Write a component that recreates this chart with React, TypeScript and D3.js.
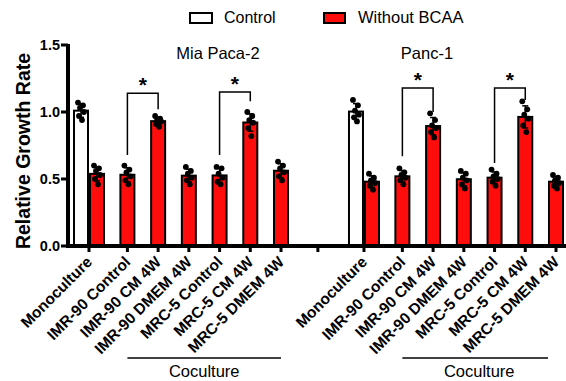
import React from "react";
import * as d3 from "d3";

const width = 566;
const height = 381;

const categories = [
  "Monoculture",
  "IMR-90 Control",
  "IMR-90 CM 4W",
  "IMR-90 DMEM 4W",
  "MRC-5 Control",
  "MRC-5 CM 4W",
  "MRC-5 DMEM 4W",
];
const cellLines = ["Mia Paca-2", "Panc-1"];
const seriesNames = ["Control", "Without BCAA"];
const yTicks = [0, 0.5, 1.0, 1.5];

// replicate values
const miaControl = [1.07, 1.05, 1.03, 1.0, 0.97, 0.94];
const miaWithoutBCAA = [
  [0.6, 0.58, 0.56, 0.53, 0.5, 0.46],
  [0.6, 0.57, 0.55, 0.52, 0.49, 0.46],
  [0.97, 0.95, 0.94, 0.93, 0.91, 0.89],
  [0.59, 0.56, 0.54, 0.51, 0.49, 0.46],
  [0.59, 0.58, 0.54, 0.51, 0.48, 0.46],
  [1.0, 0.97, 0.94, 0.92, 0.88, 0.82],
  [0.63, 0.6, 0.58, 0.55, 0.52, 0.49],
];
const pancControl = [1.09, 1.05, 1.01, 0.98, 0.96, 0.93];
const pancWithoutBCAA = [
  [0.54, 0.51, 0.49, 0.47, 0.45, 0.42],
  [0.58, 0.55, 0.53, 0.51, 0.49, 0.46],
  [0.99, 0.94, 0.9, 0.88, 0.85, 0.81],
  [0.56, 0.54, 0.51, 0.49, 0.46, 0.43],
  [0.57, 0.54, 0.52, 0.5, 0.48, 0.45],
  [1.08, 1.02, 0.98, 0.95, 0.9, 0.85],
  [0.53, 0.51, 0.49, 0.47, 0.45, 0.43],
];

// significance brackets (value units)
const brackets = [
  { panel: 0, from: 1, to: 2, top: 1.14, leftEnd: 0.68, rightEnd: 1.02 },
  { panel: 0, from: 4, to: 5, top: 1.15, leftEnd: 0.68, rightEnd: 1.08 },
  { panel: 1, from: 1, to: 2, top: 1.18, leftEnd: 0.67, rightEnd: 1.0 },
  { panel: 1, from: 4, to: 5, top: 1.18, leftEnd: 0.62, rightEnd: 1.09 },
];

const controls = [miaControl, pancControl];
const treated = [miaWithoutBCAA, pancWithoutBCAA];

const font = "'Liberation Sans', Arial, sans-serif";
const red = "#ff0d0d";

const y = d3.scaleLinear().domain([0, 1.5]).range([246, 45]);
// slot positions along the x axis
const slot = d3.scaleLinear().domain([0, 15.2]).range([89, 556]);
const panelStart = [0, 8.95];
const slotOf = (p: number, i: number) =>
  panelStart[p] + (i === 0 ? 0 : 1.25 + (i - 1));
const xPos = (p: number, i: number) => slot(slotOf(p, i));
const gapX = slot(7.45);

const barW = 14;
const jitter = [-3, 2, -1, 3, -2, 1];

function Bar({ cx, values, fill }: { cx: number; values: number[]; fill: string }) {
  const m = d3.mean(values) as number;
  const sd = d3.deviation(values) as number;
  const mid = cx + barW / 2;
  return (
    <g>
      <rect x={cx} y={y(m)} width={barW} height={y(0) - y(m)} fill={fill} stroke="#000" strokeWidth={2} />
      <line x1={mid} x2={mid} y1={y(m - sd)} y2={y(m + sd)} stroke="#000" strokeWidth={1.5} />
      <line x1={mid - 3} x2={mid + 3} y1={y(m + sd)} y2={y(m + sd)} stroke="#000" strokeWidth={1.5} />
      <line x1={mid - 3} x2={mid + 3} y1={y(m - sd)} y2={y(m - sd)} stroke="#000" strokeWidth={1.5} />
      {values.map((v, k) => (
        <circle key={k} cx={mid + jitter[k]} cy={y(v)} r={2.9} fill="#000" />
      ))}
    </g>
  );
}

export default function App() {
  return (
    <svg width={width} height={height} style={{ position: "absolute", left: 0, top: 0, background: "#fff" }} fontFamily={font}>
      {/* legend */}
      <rect x={190} y={13} width={22} height={10} fill="#fff" stroke="#000" strokeWidth={2} />
      <text x={224} y={23} fontSize={16}>{seriesNames[0]}</text>
      <rect x={324} y={13} width={21} height={10} fill={red} stroke="#000" strokeWidth={2} />
      <text x={358} y={23} fontSize={16.5}>{seriesNames[1]}</text>

      {/* panel titles */}
      {cellLines.map((name, p) => (
        <text key={name} x={p === 0 ? 218 : 427} y={59} fontSize={16.5} textAnchor="middle">{name}</text>
      ))}

      {/* bars */}
      {cellLines.map((name, p) => (
        <g key={name}>
          <Bar cx={xPos(p, 0) - barW - 1} values={controls[p]} fill="#fff" />
          {categories.map((c, i) => (
            <Bar key={c} cx={i === 0 ? xPos(p, 0) + 1 : xPos(p, i) - barW / 2} values={treated[p][i]} fill={red} />
          ))}
        </g>
      ))}

      {/* brackets */}
      {brackets.map((b, k) => {
        const x1 = xPos(b.panel, b.from);
        const x2 = xPos(b.panel, b.to);
        return (
          <g key={k}>
            <path
              d={`M${x1},${y(b.leftEnd)}V${y(b.top)}H${x2}V${y(b.rightEnd)}`}
              fill="none"
              stroke="#000"
              strokeWidth={1.5}
            />
            <text x={(x1 + x2) / 2} y={y(b.top) - 1} fontSize={21} fontWeight="bold" textAnchor="middle">*</text>
          </g>
        );
      })}

      {/* y axis */}
      <line x1={68} x2={68} y1={y(1.5) - 1} y2={y(0) + 2} stroke="#000" strokeWidth={4} />
      {yTicks.map((t) => (
        <g key={t}>
          <line x1={61} x2={68} y1={y(t)} y2={y(t)} stroke="#000" strokeWidth={3} />
          <text x={60} y={y(t) + 5} fontSize={14.5} fontWeight="bold" textAnchor="end">{d3.format(".1f")(t)}</text>
        </g>
      ))}
      <text
        transform={`translate(30,${151}) rotate(-90)`}
        fontSize={19.5}
        fontWeight="bold"
        textAnchor="middle"
      >
        Relative Growth Rate
      </text>

      {/* x axis */}
      <line x1={66} x2={width} y1={y(0)} y2={y(0)} stroke="#000" strokeWidth={4} />
      <line x1={gapX} x2={gapX} y1={y(0)} y2={y(0) + 6} stroke="#000" strokeWidth={3} />
      {cellLines.map((name, p) => (
        <g key={name}>
          {categories.map((c, i) => {
            const x = xPos(p, i);
            return (
              <g key={c}>
                <line x1={x} x2={x} y1={y(0)} y2={y(0) + 6} stroke="#000" strokeWidth={3} />
                <text
                  transform={`translate(${x + 4},${263}) rotate(-45)`}
                  fontSize={15.5}
                  fontWeight="bold"
                  textAnchor="end"
                >
                  {c}
                </text>
              </g>
            );
          })}
          <line x1={xPos(p, 1)} x2={xPos(p, 6) - (p === 1 ? 8 : 0)} y1={358} y2={358} stroke="#000" strokeWidth={1.5} />
          <text x={(xPos(p, 1) + xPos(p, 6)) / 2} y={377} fontSize={16.5} textAnchor="middle">Coculture</text>
        </g>
      ))}
    </svg>
  );
}
